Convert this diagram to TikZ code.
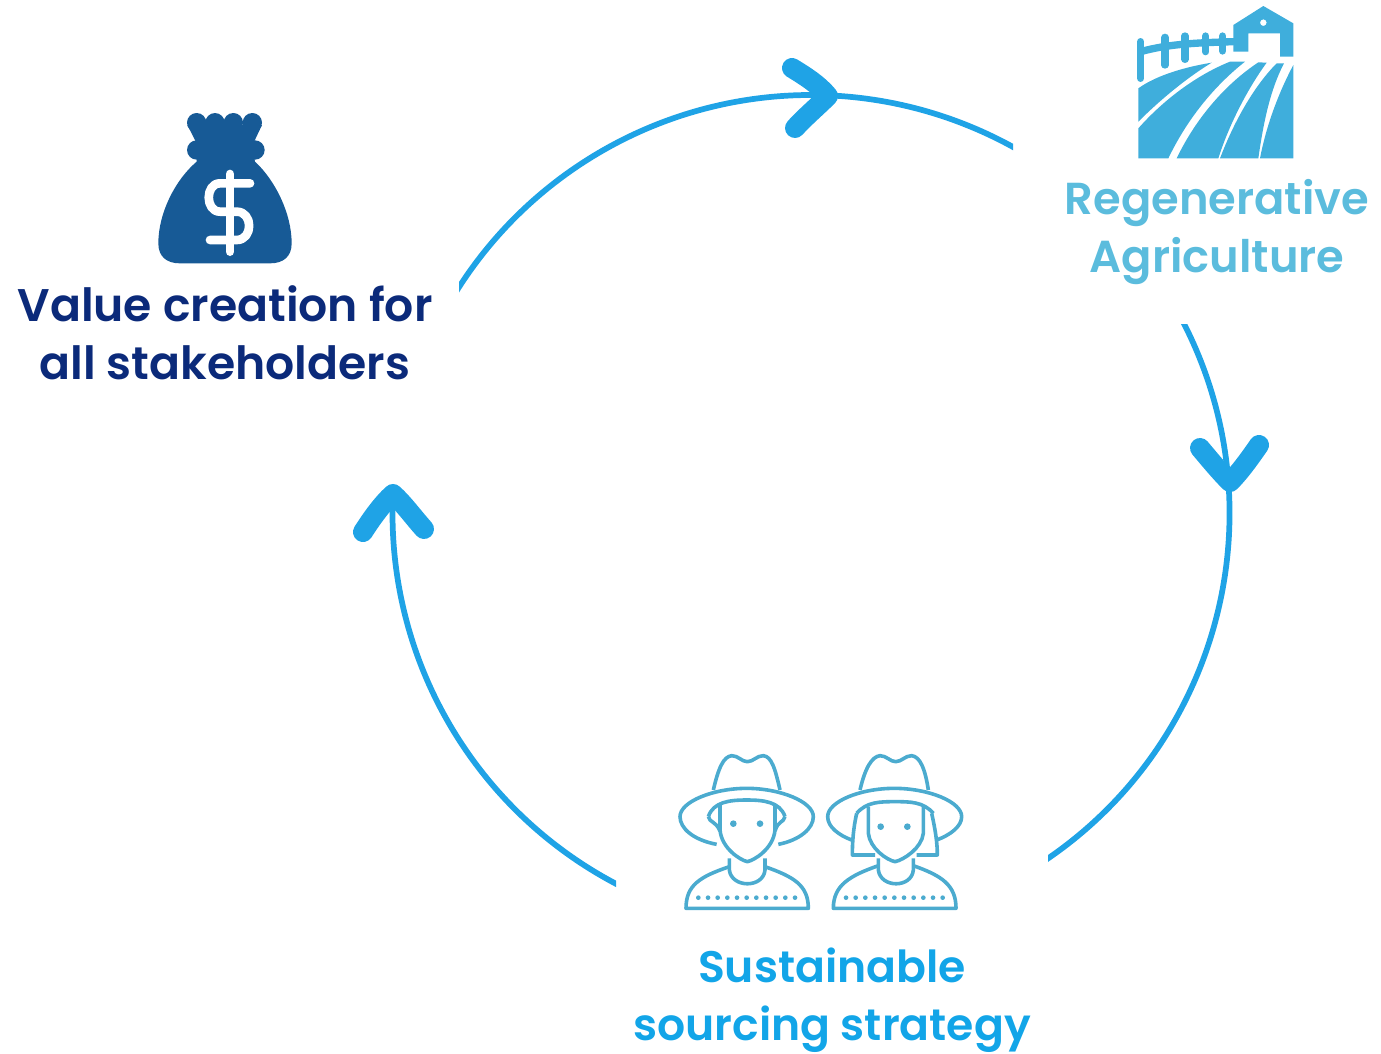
\documentclass[tikz,border=0pt]{standalone}
\usepackage{fontspec}
\usetikzlibrary{calc}
\setmainfont{Poppins}[BoldFont={Poppins SemiBold}]
\definecolor{ringblue}{HTML}{1FA3E6}
\definecolor{farmblue}{HTML}{3FAEDC}
\definecolor{farmtext}{HTML}{5BBCDD}
\definecolor{peopleblue}{HTML}{4BABCF}
\definecolor{peopletext}{HTML}{12A5E8}
\definecolor{bagblue}{HTML}{175A96}
\definecolor{navytext}{HTML}{0B2A7A}
\tikzset{
 ring/.style={draw=ringblue,line width=4.3pt},
 chevron/.style={draw=ringblue,line width=15pt,line cap=round,line join=round},
 caption/.style={font=\fontsize{#1}{43.3}\selectfont\bfseries,align=center,inner sep=0pt},
 person/.style={draw=peopleblue,line width=2.7pt,line join=round},
 dollar/.style={draw=white,line width=6.5pt,line cap=round,line join=round},
 fence/.style={draw=farmblue,line width=5.5pt,line cap=round}
}
\begin{document}
\begin{tikzpicture}[x=0.75pt,y=-0.75pt]
\useasboundingbox (0,0) rectangle (1381,1053);
\coordinate (c) at (811,513.5);
% labels
\node[caption=34.3,text=navytext] (value) at (225,333) {Value creation for\\all stakeholders};
\node[caption=33.6,text=farmtext] (regen) at (1217,232) {Regenerative\\Agriculture};
\node[caption=33.1,text=peopletext] (sourcing) at (832,1000) {Sustainable\\sourcing strategy};
% ring
\coordinate (a1s) at ($(c)+(210:418.5)$);
\coordinate (a2s) at ($(c)+(-29:418.5)$);
\coordinate (a3s) at ($(c)+(114:418.5)$);
\begin{scope}
\clip (459,0) rectangle (1013,400);
\draw[ring] (a1s) arc[start angle=210,end angle=302,radius=418.5];
\end{scope}
\begin{scope}
\clip (1048,324) rectangle (1381,1000);
\draw[ring] (a2s) arc[start angle=-29,end angle=58,radius=418.5];
\end{scope}
\begin{scope}
\clip (0,400) rectangle (616,1000);
\draw[ring] (a3s) arc[start angle=114,end angle=183.1,radius=418.5];
\end{scope}
% arrow heads
\draw[chevron] (792,68) .. controls (805,76) and (818,84) .. (828,96) .. controls (818,106) and (805,117) .. (795,128);
\draw[chevron] (1200,448) .. controls (1210,460) and (1220,472) .. (1230,482) .. controls (1240,472) and (1250,458) .. (1259,445);
\draw[chevron] (363,532) .. controls (372,518) and (382,504) .. (393,494) .. controls (404,504) and (414,518) .. (424,529);
% farm
\begin{scope}[shift={(1120,0)},x=.25pt,y=-.25pt]
\fill[farmblue] (55,265) .. controls (110,225) and (200,200) .. (275,188) .. controls (190,240) and (110,310) .. (55,365) -- cycle;
\fill[farmblue] (55,385) .. controls (130,300) and (230,225) .. (330,185) -- (375,185) .. controls (280,260) and (200,360) .. (145,475) -- (55,475) -- cycle;
\fill[farmblue] (170,475) .. controls (230,350) and (320,250) .. (415,187) -- (440,188) .. controls (380,270) and (325,380) .. (295,475) -- cycle;
\fill[farmblue] (300,475) .. controls (340,370) and (400,260) .. (470,190) -- (492,190) .. controls (450,270) and (430,370) .. (415,475) -- cycle;
\fill[farmblue] (420,475) .. controls (440,370) and (480,270) .. (520,195) -- (520,475) -- cycle;
\fill[farmblue,even odd rule] (340,75) -- (430,18) -- (520,70) -- (520,170) -- (480,170) -- (480,100) -- (385,100) -- (385,155) -- (340,155) -- cycle (430,68) circle[radius=10];
\draw[fence] (62,155) .. controls (150,130) and (250,128) .. (340,125);
\draw[fence] (62,125) -- (62,235);
\draw[fence] (135,112) -- (135,195);
\draw[fence] (195,108) -- (195,178);
\draw[fence] (257,108) -- (257,155);
\draw[fence] (308,108) -- (308,153);
\end{scope}
% bag
\begin{scope}[shift={(145,100)},x=.25pt,y=-.25pt]
\fill[bagblue] (155,185) .. controls (90,240) and (40,340) .. (40,430) .. controls (40,470) and (65,490) .. (105,490) -- (375,490) .. controls (415,490) and (440,470) .. (440,430) .. controls (440,340) and (390,240) .. (330,185) -- cycle;
\fill[bagblue] (155,68) circle[radius=29] (210,68) circle[radius=29] (265,68) circle[radius=29] (322,68) circle[radius=29] (155,150) circle[radius=29] (330,150) circle[radius=29];
\fill[bagblue] (127,75) -- (351,75) -- (325,130) -- (330,190) -- (155,190) -- (155,130) -- cycle;
\draw[dollar] (255,222) -- (255,455);
\draw[dollar] (315,250) -- (225,250) .. controls (180,250) and (180,335) .. (225,335) -- (275,335) .. controls (325,335) and (325,420) .. (275,420) -- (195,420);
\end{scope}
% people
\begin{scope}[shift={(660,745)},x=.25pt,y=-.25pt]
\draw[person] (170,298) .. controls (100,285) and (60,250) .. (60,215) .. controls (60,170) and (160,130) .. (260,130) .. controls (360,130) and (460,170) .. (460,215) .. controls (460,250) and (420,285) .. (355,298);
\draw[person] (160,135) .. controls (175,70) and (190,35) .. (215,32) .. controls (235,32) and (245,50) .. (262,50) .. controls (280,50) and (290,32) .. (310,32) .. controls (335,35) and (345,70) .. (360,135);
\draw[person] (145,215) .. controls (160,170) and (210,165) .. (260,165) .. controls (310,165) and (360,170) .. (375,215);
\draw[person] (180,180) -- (180,255) .. controls (185,310) and (240,345) .. (262,350) .. controls (285,345) and (340,310) .. (345,255) -- (345,180);
\draw[person] (145,215) .. controls (150,235) and (165,225) .. (180,258);
\draw[person] (375,215) .. controls (370,235) and (355,225) .. (345,258);
\draw[person] (208,340) -- (208,375) .. controls (215,430) and (310,430) .. (315,375) -- (315,340);
\draw[person] (208,365) .. controls (120,395) and (78,420) .. (78,490) -- (445,490) .. controls (445,420) and (400,395) .. (315,365);
\fill[peopleblue] (220,236) circle[radius=10] (300,236) circle[radius=10];
\foreach \i in {0,...,10} \fill[peopleblue] (115+29*\i,458) circle[radius=7];
\draw[person] (575,285) .. controls (535,270) and (503,245) .. (503,215) .. controls (503,170) and (600,130) .. (703,130) .. controls (805,130) and (905,170) .. (905,215) .. controls (905,245) and (870,270) .. (830,285);
\draw[person] (600,135) .. controls (615,70) and (635,35) .. (660,32) .. controls (680,32) and (690,50) .. (707,50) .. controls (725,50) and (735,32) .. (755,32) .. controls (780,35) and (795,70) .. (805,135);
\draw[person] (590,205) .. controls (620,170) and (660,170) .. (705,170) .. controls (750,170) and (790,170) .. (820,205);
\draw[person] (590,205) .. controls (580,250) and (577,290) .. (577,330) -- (645,330);
\draw[person] (815,205) .. controls (825,250) and (832,290) .. (832,330) -- (770,330);
\draw[person] (625,185) -- (625,265) .. controls (630,310) and (680,345) .. (705,350) .. controls (730,345) and (785,310) .. (790,265) -- (790,185);
\draw[person] (655,340) -- (655,375) .. controls (662,430) and (755,430) .. (760,375) -- (760,340);
\draw[person] (655,362) .. controls (570,392) and (520,420) .. (520,490) -- (888,490) .. controls (888,420) and (845,392) .. (760,362);
\fill[peopleblue] (662,245) circle[radius=10] (742,245) circle[radius=10];
\foreach \i in {0,...,10} \fill[peopleblue] (558+29*\i,458) circle[radius=7];
\end{scope}
\end{tikzpicture}
\end{document}
